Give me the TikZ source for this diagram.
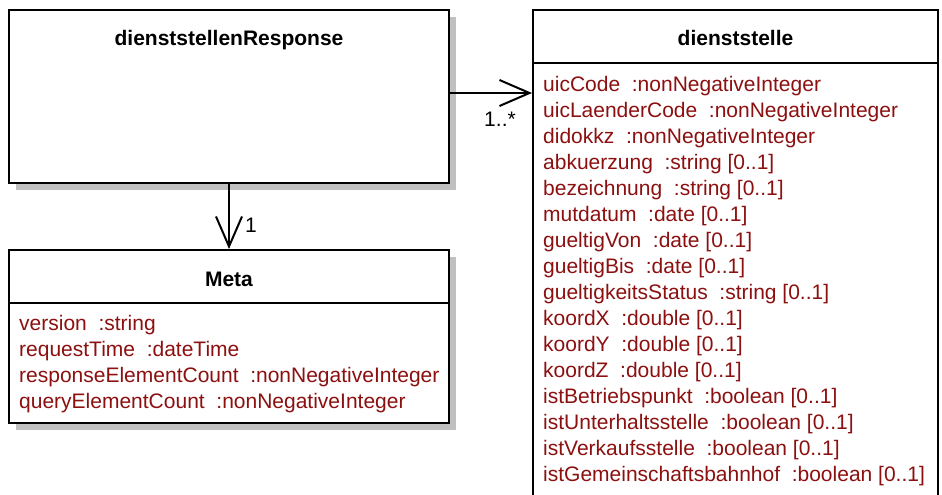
\documentclass[tikz,border=0pt]{standalone}
\usepackage{fontspec}
\setmainfont{Liberation Sans}
\usetikzlibrary{arrows.meta,shadows}
\definecolor{attrred}{RGB}{140,16,16}
\definecolor{shadowgray}{RGB}{192,192,192}
\tikzset{
  classbox/.style={draw, line width=2pt, fill=white, inner sep=0pt},
  boxshadow/.style={drop shadow={shadow xshift=7pt, shadow yshift=-7pt, fill=shadowgray, opacity=1}},
  classname/.style={anchor=base, inner sep=0pt, font=\fontsize{21}{26}\selectfont\bfseries},
  attr/.style={anchor=base west, inner sep=0pt, text=attrred, font=\fontsize{21}{26}\selectfont},
  mult/.style={anchor=base, inner sep=0pt, font=\fontsize{21}{26}\selectfont},
  assoc/.style={line width=2pt, -{Straight Barb[length=30pt, width=26pt]}},
}
\begin{document}
\begin{tikzpicture}[x=1pt, y=-1pt]
\useasboundingbox (0, 0) rectangle (942, 495);
\clip (0, 0) rectangle (942, 495);
% class boxes
\node [classbox, boxshadow, minimum width=440pt, minimum height=173pt] (resp) at (229, 96.5) {};
\node [classbox, boxshadow, minimum width=440pt, minimum height=173pt] (meta) at (229, 336.5) {};
\node [classbox, minimum width=405pt, minimum height=520pt] (dst) at (735.5, 270) {};
\draw [line width=2pt] (9, 303) -- (449, 303);
\draw [line width=2pt] (533, 63) -- (938, 63);
% names
\node [classname] (respname) at (229, 45.5) {dienststellenResponse};
\node [classname] (metaname) at (229, 286) {Meta};
\node [classname] (dstname) at (735.5, 45.5) {dienststelle};
% Meta attributes
\node [attr] (m1) at (19, 330) {version~~:string};
\node [attr] (m2) at (19, 356) {requestTime~~:dateTime};
\node [attr] (m3) at (19, 382) {responseElementCount~~:nonNegativeInteger};
\node [attr] (m4) at (19, 408) {queryElementCount~~:nonNegativeInteger};
% dienststelle attributes
\node [attr] (d1) at (543, 91) {uicCode~~:nonNegativeInteger};
\node [attr] (d2) at (543, 117) {uicLaenderCode~~:nonNegativeInteger};
\node [attr] (d3) at (543, 143) {didokkz~~:nonNegativeInteger};
\node [attr] (d4) at (543, 169) {abkuerzung~~:string [0..1]};
\node [attr] (d5) at (543, 195) {bezeichnung~~:string [0..1]};
\node [attr] (d6) at (543, 221) {mutdatum~~:date [0..1]};
\node [attr] (d7) at (543, 247) {gueltigVon~~:date [0..1]};
\node [attr] (d8) at (543, 273) {gueltigBis~~:date [0..1]};
\node [attr] (d9) at (543, 299) {gueltigkeitsStatus~~:string [0..1]};
\node [attr] (d10) at (543, 325) {koordX~~:double [0..1]};
\node [attr] (d11) at (543, 351) {koordY~~:double [0..1]};
\node [attr] (d12) at (543, 377) {koordZ~~:double [0..1]};
\node [attr] (d13) at (543, 403) {istBetriebspunkt~~:boolean [0..1]};
\node [attr] (d14) at (543, 429) {istUnterhaltsstelle~~:boolean [0..1]};
\node [attr] (d15) at (543, 455) {istVerkaufsstelle~~:boolean [0..1]};
\node [attr] (d16) at (543, 481) {istGemeinschaftsbahnhof~~:boolean [0..1]};
% associations
\draw [assoc] ([yshift=3.5pt]resp.east) coordinate (a) -- (a -| dst.west);
\draw [assoc] (resp.south) -- (meta.north);
\node [mult] (m-dst) at (500, 126) {1..*};
\node [mult] (m-meta) at (251, 232) {1};
\end{tikzpicture}
\end{document}
